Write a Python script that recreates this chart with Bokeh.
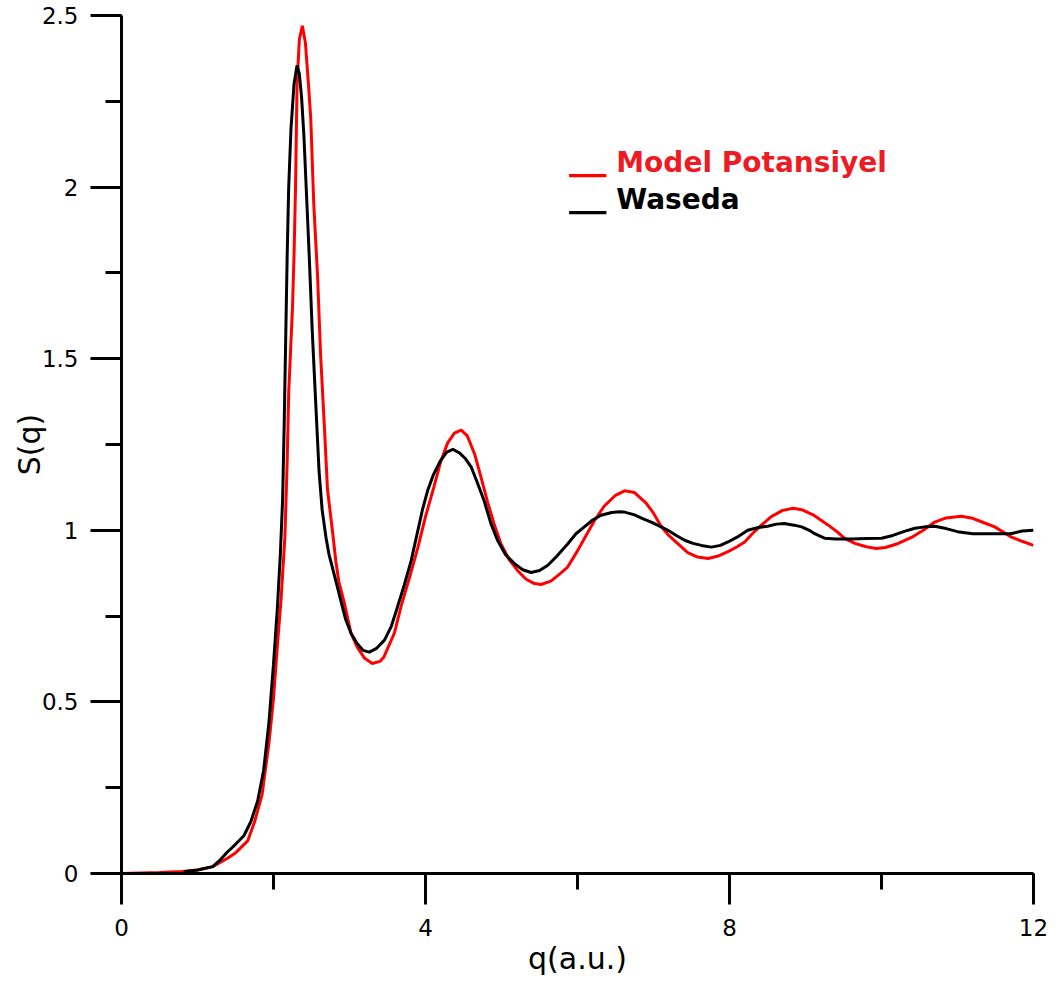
from bokeh.plotting import figure
from bokeh.models import Range1d, SingleIntervalTicker, Label, BoxAnnotation
from bokeh.embed import file_html
from bokeh.resources import INLINE

# ---- data ----
q_model = [0.0, 0.5, 0.8, 1.0, 1.2, 1.4, 1.5, 1.66, 1.75, 1.85,
           1.94, 2.0, 2.05, 2.1, 2.15, 2.18, 2.2, 2.25, 2.27, 2.29,
           2.31, 2.34, 2.38, 2.42, 2.46, 2.49, 2.53, 2.58, 2.62, 2.67,
           2.71, 2.78, 2.82, 2.86, 2.93, 3.02, 3.1, 3.2, 3.3, 3.4,
           3.45, 3.59, 3.68, 3.8, 3.9, 4.0, 4.11, 4.2, 4.29, 4.38,
           4.47, 4.55, 4.65, 4.73, 4.82, 4.9, 4.99, 5.1, 5.21, 5.32,
           5.42, 5.52, 5.65, 5.78, 5.87, 6.0, 6.1, 6.22, 6.35, 6.5,
           6.62, 6.75, 6.9, 7.0, 7.1, 7.2, 7.32, 7.45, 7.58, 7.72,
           7.85, 8.0, 8.1, 8.2, 8.3, 8.42, 8.55, 8.7, 8.84, 8.95,
           9.1, 9.2, 9.3, 9.42, 9.52, 9.65, 9.8, 9.93, 10.05, 10.2,
           10.4, 10.55, 10.7, 10.85, 11.05, 11.2, 11.35, 11.49, 11.6, 11.71,
           11.85, 12.0]
s_model = [0.0, 0.003, 0.006, 0.01, 0.02, 0.045, 0.06, 0.095, 0.15, 0.23,
           0.38, 0.51, 0.66, 0.8, 0.98, 1.2, 1.4, 1.65, 1.8, 2.0,
           2.3, 2.43, 2.47, 2.42, 2.3, 2.2, 1.95, 1.74, 1.51, 1.3,
           1.12, 0.99, 0.91, 0.85, 0.79, 0.70, 0.66, 0.627, 0.612, 0.618,
           0.63, 0.70, 0.78, 0.87, 0.95, 1.04, 1.126, 1.2, 1.254, 1.283,
           1.292, 1.275, 1.22, 1.155, 1.08, 1.02, 0.962, 0.915, 0.883, 0.858,
           0.846, 0.842, 0.852, 0.875, 0.893, 0.94, 0.98, 1.027, 1.07, 1.102,
           1.115, 1.11, 1.08, 1.05, 1.012, 0.985, 0.961, 0.935, 0.922, 0.918,
           0.925, 0.94, 0.952, 0.966, 0.99, 1.015, 1.04, 1.058, 1.064, 1.06,
           1.045, 1.03, 1.015, 0.995, 0.976, 0.962, 0.952, 0.947, 0.95, 0.96,
           0.98, 1.0, 1.024, 1.036, 1.041, 1.035, 1.022, 1.01, 0.995, 0.98,
           0.968, 0.956]

q_waseda = [0.82, 1.0, 1.2, 1.3, 1.39, 1.5, 1.61, 1.7, 1.79, 1.87,
            1.94, 2.0, 2.05, 2.09, 2.12, 2.14, 2.16, 2.18, 2.2, 2.23,
            2.27, 2.31, 2.34, 2.37, 2.4, 2.43, 2.47, 2.51, 2.56, 2.6,
            2.64, 2.69, 2.73, 2.8, 2.88, 2.95, 3.02, 3.1, 3.18, 3.26,
            3.35, 3.46, 3.55, 3.63, 3.72, 3.81, 3.9, 3.96, 4.03, 4.1,
            4.2, 4.28, 4.36, 4.45, 4.52, 4.6, 4.68, 4.77, 4.86, 4.95,
            5.05, 5.17, 5.28, 5.39, 5.5, 5.61, 5.73, 5.87, 5.98, 6.09,
            6.2, 6.31, 6.45, 6.55, 6.62, 6.75, 6.85, 6.97, 7.08, 7.19,
            7.3, 7.41, 7.52, 7.63, 7.76, 7.88, 7.98, 8.1, 8.24, 8.38,
            8.5, 8.62, 8.72, 8.85, 8.95, 9.05, 9.12, 9.25, 9.4, 9.6,
            9.8, 10.0, 10.15, 10.3, 10.44, 10.57, 10.7, 10.85, 11.0, 11.1,
            11.2, 11.45, 11.7, 11.85, 12.0]
s_waseda = [0.005, 0.01, 0.02, 0.04, 0.062, 0.085, 0.11, 0.15, 0.21, 0.30,
            0.44, 0.61, 0.77, 0.93, 1.09, 1.3, 1.55, 1.8, 2.0, 2.17,
            2.3, 2.355, 2.33, 2.26, 2.15, 2.0, 1.8, 1.58, 1.35, 1.17,
            1.06, 0.98, 0.93, 0.87, 0.80, 0.74, 0.70, 0.67, 0.65, 0.645,
            0.655, 0.68, 0.72, 0.776, 0.84, 0.91, 1.0, 1.06, 1.117, 1.16,
            1.204, 1.228, 1.236, 1.225, 1.21, 1.185, 1.14, 1.087, 1.02, 0.97,
            0.93, 0.903, 0.885, 0.877, 0.883, 0.898, 0.925, 0.96, 0.99, 1.01,
            1.03, 1.044, 1.052, 1.054, 1.053, 1.045, 1.035, 1.024, 1.012, 1.0,
            0.985, 0.971, 0.962, 0.956, 0.951, 0.956, 0.966, 0.98, 1.0, 1.008,
            1.012, 1.018, 1.02, 1.015, 1.01, 1.0, 0.99, 0.977, 0.975, 0.975,
            0.976, 0.977, 0.985, 0.997, 1.006, 1.01, 1.012, 1.005, 0.996, 0.993,
            0.99, 0.99, 0.99, 0.998, 1.0]

series_names = ["Model Potansiyel", "Waseda"]
x_label = "q(a.u.)"
y_label = "S(q)"

assert len(q_model) == len(s_model)
assert len(q_waseda) == len(s_waseda)

RED = "#ff0000"
RED_TEXT = "#ed1c24"
BLACK = "#000000"
FONT = "DejaVu Sans"

p = figure(width=1062, height=981, output_backend="svg", toolbar_location=None,
           x_range=Range1d(0, 12), y_range=Range1d(0, 2.5),
           min_border_left=121, min_border_right=29,
           min_border_top=15, min_border_bottom=108)
p.outline_line_color = None
p.xgrid.visible = False
p.ygrid.visible = False
p.background_fill_color = "white"
p.border_fill_color = "white"

p.line(q_model, s_model, line_color=RED, line_width=3)
p.line(q_waseda, s_waseda, line_color=BLACK, line_width=3)

p.xaxis.ticker = SingleIntervalTicker(interval=4, num_minor_ticks=2)
p.yaxis.ticker = SingleIntervalTicker(interval=0.5, num_minor_ticks=2)

for ax in (p.xaxis[0], p.yaxis[0]):
    ax.axis_line_width = 3
    ax.axis_line_color = BLACK
    ax.major_tick_line_width = 3
    ax.minor_tick_line_width = 3
    ax.major_tick_line_color = BLACK
    ax.minor_tick_line_color = BLACK
    ax.major_tick_in = 0
    ax.minor_tick_in = 0
    ax.major_tick_out = 31
    ax.minor_tick_out = 16
    ax.major_label_text_font = FONT
    ax.major_label_text_font_size = "23px"
    ax.major_label_text_color = BLACK
    ax.axis_label_text_font = FONT
    ax.axis_label_text_font_style = "normal"
    ax.axis_label_text_font_size = "30px"
    ax.axis_label_text_color = BLACK

p.xaxis.axis_label = x_label
p.yaxis.axis_label = y_label
p.xaxis.major_label_standoff = 14
p.xaxis.axis_label_standoff = 2
p.yaxis.major_label_standoff = 12
p.yaxis.axis_label_standoff = -8

# legend (hand-placed, like the reference)
leg_x0, leg_x1, leg_tx = 5.89, 6.38, 6.51
leg_rows = [(2.073, 2.029, 2.038, RED, RED_TEXT, series_names[0]),
            (1.965, 1.921, 1.930, BLACK, BLACK, series_names[1])]
for ty, b, t, lc, tc, name in leg_rows:
    p.add_layout(BoxAnnotation(left=leg_x0, right=leg_x1, bottom=b, top=t,
                               fill_color=lc, fill_alpha=1.0, line_color=None))
    p.add_layout(Label(x=leg_tx, y=ty, text=name, text_font=FONT,
                       text_font_style="bold", text_font_size="28px",
                       text_color=tc, text_baseline="alphabetic"))

open("out.html", "w").write(file_html(p, INLINE))
